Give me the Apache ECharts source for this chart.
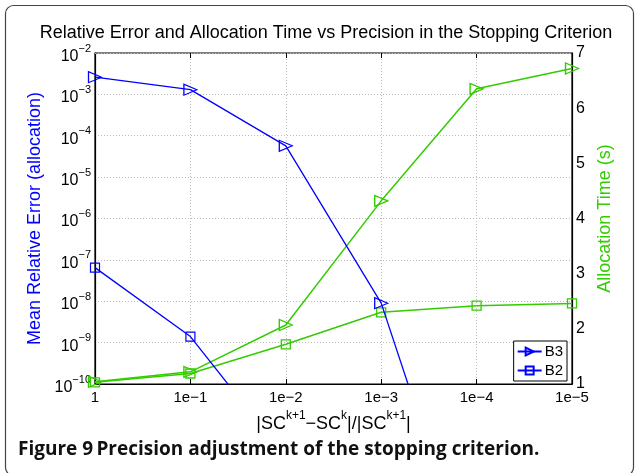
<!DOCTYPE html>
<html><head><meta charset="utf-8">
<script src="https://cdn.jsdelivr.net/npm/echarts@6/dist/echarts.min.js"></script>
<style>html,body{margin:0;padding:0;background:#fff}#c{width:635px;height:473px}</style>
</head><body><div id="c"></div>
<script>
// ---- data ----
const categories = ['1', '1e\u22121', '1e\u22122', '1e\u22123', '1e\u22124', '1e\u22125'];
const errB3 = [2.6e-3, 1.3e-3, 5.7e-5, 9e-9, 1e-15, 1e-17];
const errB2 = [6.5e-8, 1.4e-9, 1.7e-12, 1e-13, 1e-14, 1e-15];
const timeB3 = [1.04, 1.22, 2.07, 4.32, 6.35, 6.72];
const timeB2 = [1.03, 1.19, 1.72, 2.3, 2.42, 2.46];
const errExponents = [-10, -9, -8, -7, -6, -5, -4, -3, -2];
const timeTicks = [1, 2, 3, 4, 5, 6, 7];

const BLUE = '#0000ff', GREEN = '#33cc00';
const FONT = 'Liberation Sans';

// minor log gridlines (2..9 x 10^k)
const minorLines = [];
errExponents.slice(0, -1).forEach(k => {
  for (let m = 2; m <= 9; m++) minorLines.push({ yAxis: m * Math.pow(10, k) });
});

const chart = echarts.init(document.getElementById('c'));
const G = { left: 95, right: 63, top: 53, bottom: 89 };
chart.setOption({
  animation: false,
  backgroundColor: '#fff',
  grid: { left: G.left, right: G.right, top: G.top, bottom: G.bottom, show: true, borderColor: '#000', borderWidth: 1.2, containLabel: false },
  legend: {
    data: ['B3', 'B2'], orient: 'vertical', right: 68, bottom: 92,
    backgroundColor: '#fff', borderColor: '#000', borderWidth: 1,
    padding: [3, 4, 3, 3], itemGap: 4, itemWidth: 24, itemHeight: 10,
    textStyle: { fontFamily: FONT, fontSize: 15, color: '#000', padding: [0, 0, 0, -2] }
  },
  xAxis: [{
    type: 'category', data: categories, boundaryGap: false,
    axisLine: { lineStyle: { color: '#000', width: 1.2 } },
    axisTick: { inside: true, length: 5, alignWithLabel: true, lineStyle: { color: '#000' } },
    axisLabel: { fontFamily: FONT, fontSize: 15, color: '#000', margin: 6 },
    splitLine: { show: true, lineStyle: { color: '#bbb', type: [1, 2], width: 1 } },
    name: '{n||SC}{s|k+1}{n|\u2212SC}{s|k}{n||/|SC}{s|k+1}{n||}',
    nameLocation: 'middle', nameGap: 19,
    nameTextStyle: {
      fontFamily: FONT, color: '#000',
      rich: { n: { fontSize: 18, fontFamily: FONT, color: '#000', padding: [7, 0, 0, 0] },
              s: { fontSize: 12, fontFamily: FONT, color: '#000', padding: [0, 0, 9, 0] } }
    }
  }, {
    type: 'category', data: categories, boundaryGap: false, position: 'top',
    axisLine: { show: false }, axisLabel: { show: false },
    axisTick: { inside: true, length: 5, lineStyle: { color: '#000' } }
  }],
  yAxis: [{
    type: 'log', logBase: 10, min: 1e-10, max: 1e-2, position: 'left',
    axisLine: { show: true, lineStyle: { color: '#000', width: 1.2 } },
    axisTick: { inside: true, length: 5, lineStyle: { color: '#000' } },
    axisLabel: {
      margin: 4, fontFamily: FONT, color: '#000',
      formatter: v => '{b|10}{s|\u2212' + Math.abs(Math.round(Math.log10(v))) + '}',
      rich: { b: { fontSize: 16, fontFamily: FONT, color: '#000', padding: [7, 0, 0, 0] },
              s: { fontSize: 11, fontFamily: FONT, color: '#000', padding: [0, 0, 9, 0] } }
    },
    splitLine: { show: true, lineStyle: { color: '#bbb', type: [1, 2], width: 1 } },
    name: 'Mean Relative Error (allocation)', nameLocation: 'middle', nameGap: 42, nameRotate: 90,
    nameTextStyle: { fontFamily: FONT, fontSize: 18, color: BLUE }
  }, {
    type: 'value', min: 1, max: 7, interval: 1, position: 'right',
    axisLine: { show: true, lineStyle: { color: '#000', width: 1.2 } },
    axisTick: { inside: true, length: 5, lineStyle: { color: '#000' } },
    axisLabel: { fontFamily: FONT, fontSize: 16, color: '#000', margin: 4 },
    splitLine: { show: false },
    name: 'Allocation Time (s)', nameLocation: 'middle', nameGap: 16, nameRotate: 90,
    nameTextStyle: { fontFamily: FONT, fontSize: 18, color: GREEN }
  }],
  series: [{
    name: 'grid-minor', type: 'line', data: [], yAxisIndex: 0, silent: true,
    markLine: { silent: true, symbol: 'none', label: { show: false },
      lineStyle: { color: '#bbb', type: [1, 2], width: 1 }, data: minorLines }
  }, {
    name: 'B3', type: 'line', data: errB3, yAxisIndex: 0, z: 5,
    symbol: 'triangle', symbolSize: [11, 13], symbolRotate: -90,
    lineStyle: { color: BLUE, width: 1.3 },
    itemStyle: { color: 'rgba(0,0,0,0)', borderColor: BLUE, borderWidth: 1.2 }
  }, {
    name: 'B2', type: 'line', data: errB2, yAxisIndex: 0, z: 5,
    symbol: 'rect', symbolSize: 9,
    lineStyle: { color: BLUE, width: 1.3 },
    itemStyle: { color: 'rgba(0,0,0,0)', borderColor: BLUE, borderWidth: 1.2 }
  }, {
    name: 'B3 time', type: 'line', data: timeB3, yAxisIndex: 1, z: 4,
    symbol: 'triangle', symbolSize: [11, 13], symbolRotate: -90,
    lineStyle: { color: GREEN, width: 1.5 },
    itemStyle: { color: 'rgba(0,0,0,0)', borderColor: GREEN, borderWidth: 1.3 }
  }, {
    name: 'B2 time', type: 'line', data: timeB2, yAxisIndex: 1, z: 4,
    symbol: 'rect', symbolSize: 9,
    lineStyle: { color: GREEN, width: 1.5 },
    itemStyle: { color: 'rgba(0,0,0,0)', borderColor: GREEN, borderWidth: 1.3 }
  }],
  graphic: [{
    type: 'rect', left: 3, top: 3, z: -10,
    shape: { width: 628, height: 470, r: 8 },
    style: { fill: 'none', stroke: '#444', lineWidth: 1.2 }
  }, {
    type: 'text', x: 326, y: 33,
    style: {
      text: 'Relative Error and Allocation Time vs Precision in the Stopping Criterion',
      font: '18px "Liberation Sans"', fill: '#000', align: 'center', verticalAlign: 'middle'
    }
  }, {
    type: 'text', x: 18, y: 450,
    style: {
      text: '{a|Figure 9} {b|Precision adjustment of the stopping criterion.}',
      verticalAlign: 'middle',
      rich: { a: { fontFamily: 'Open Sans', fontWeight: 'bold', fontSize: 19, fill: '#111' },
              b: { fontFamily: 'Open Sans', fontWeight: 'bold', fontSize: 19, fill: '#111' } }
    }
  }]
});
</script></body></html>
